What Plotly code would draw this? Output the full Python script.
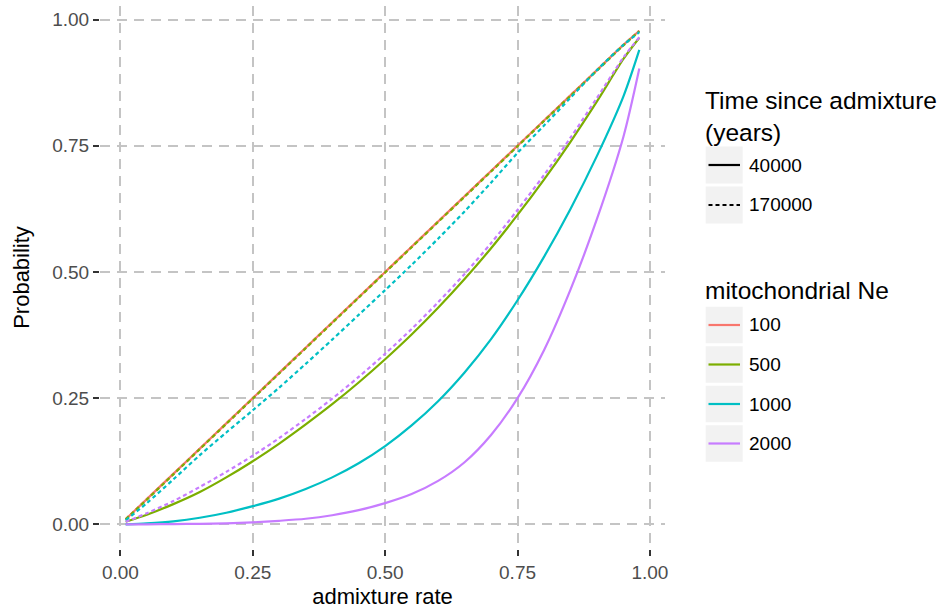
import plotly.graph_objects as go

# ---------------- data ----------------
admixture_rate = [0.01, 0.05, 0.10, 0.15, 0.20, 0.25, 0.30, 0.35, 0.40, 0.45, 0.50,
                  0.55, 0.60, 0.65, 0.70, 0.75, 0.80, 0.85, 0.90, 0.95, 0.98]

p_100_40k = [0.010, 0.050, 0.100, 0.150, 0.200, 0.250, 0.300, 0.350, 0.400, 0.450, 0.500,
             0.550, 0.600, 0.650, 0.700, 0.750, 0.800, 0.850, 0.900, 0.950, 0.978]
p_100_170k = [0.010, 0.050, 0.100, 0.150, 0.200, 0.250, 0.300, 0.350, 0.400, 0.450, 0.500,
              0.550, 0.600, 0.650, 0.700, 0.750, 0.800, 0.850, 0.900, 0.950, 0.978]
p_500_40k = [0.005, 0.019, 0.040, 0.064, 0.093, 0.125, 0.160, 0.198, 0.238, 0.281, 0.327,
             0.376, 0.429, 0.486, 0.547, 0.613, 0.683, 0.758, 0.838, 0.922, 0.964]
p_500_170k = [0.010, 0.049, 0.099, 0.149, 0.199, 0.249, 0.299, 0.349, 0.399, 0.449, 0.499,
              0.549, 0.599, 0.649, 0.699, 0.749, 0.799, 0.849, 0.899, 0.949, 0.977]
p_1000_40k = [0.000, 0.002, 0.006, 0.013, 0.023, 0.036, 0.051, 0.070, 0.093, 0.121, 0.155,
              0.196, 0.244, 0.301, 0.367, 0.444, 0.530, 0.625, 0.730, 0.848, 0.940]
p_1000_170k = [0.008, 0.042, 0.089, 0.137, 0.182, 0.226, 0.271, 0.318, 0.366, 0.415, 0.464,
               0.514, 0.566, 0.620, 0.677, 0.736, 0.790, 0.845, 0.900, 0.950, 0.975]
p_2000_40k = [0.000, 0.000, 0.0005, 0.001, 0.002, 0.004, 0.007, 0.011, 0.018, 0.028, 0.042,
              0.060, 0.086, 0.123, 0.177, 0.250, 0.345, 0.465, 0.605, 0.768, 0.903]
p_2000_170k = [0.005, 0.022, 0.046, 0.074, 0.104, 0.136, 0.171, 0.209, 0.249, 0.292, 0.338,
               0.387, 0.440, 0.496, 0.557, 0.623, 0.692, 0.766, 0.845, 0.925, 0.965]

ne_labels = ["100", "500", "1000", "2000"]
time_labels = ["40000", "170000"]
ne_colors = ["#F8766D", "#7CAE00", "#00BFC4", "#C77CFF"]
time_dashes = ["solid", "4px,3px"]

tick_vals = [0.0, 0.25, 0.5, 0.75, 1.0]
tick_text = ["0.00", "0.25", "0.50", "0.75", "1.00"]

series = [
    (0, 0, p_100_40k), (0, 1, p_100_170k),
    (1, 0, p_500_40k), (1, 1, p_500_170k),
    (2, 0, p_1000_40k), (2, 1, p_1000_170k),
    (3, 0, p_2000_40k), (3, 1, p_2000_170k),
]

FONT = "Liberation Sans, Arial, sans-serif"
W, H = 945, 611
ML, MR, MT, MB = 100, 280, 6, 62
PW, PH = W - ML - MR, H - MT - MB

fig = go.Figure()
for ci, ti, vals in series:
    fig.add_trace(go.Scatter(
        x=admixture_rate, y=vals, mode="lines",
        line=dict(color=ne_colors[ci], width=2.2, dash=time_dashes[ti], shape="spline", smoothing=0.8),
        showlegend=False, hoverinfo="skip"))

grid = dict(showgrid=True, gridcolor="#C4C4C4", gridwidth=1.8, griddash="10px,7px",
            zeroline=False, showline=False, ticks="outside", ticklen=6, tickwidth=2,
            tickcolor="#333333", tickfont=dict(family=FONT, size=19, color="#4D4D4D"),
            tickvals=tick_vals, ticktext=tick_text)

fig.update_xaxes(range=[-0.0385, 1.0285], title=dict(text="admixture rate",
                 font=dict(family=FONT, size=22, color="#000000"), standoff=6), **grid)
fig.update_yaxes(range=[-0.0489, 1.027], title=dict(text="Probability",
                 font=dict(family=FONT, size=22, color="#000000"), standoff=16), **grid)


def px_x(px):
    return (px - ML) / PW


def px_y(py):
    return (H - MB - py) / PH


shapes = []
annotations = []

# legend 1: time since admixture
annotations.append(dict(xref="paper", yref="paper", x=px_x(703), y=px_y(85), xanchor="left", yanchor="top",
                        align="left", showarrow=False, text="Time since admixture<br>(years)",
                        font=dict(family=FONT, size=24.5, color="#000000")))
box_x0, box_x1 = 705.7, 742.7
for i, lab in enumerate(time_labels):
    cy = 165 + 40 * i
    shapes.append(dict(type="rect", xref="paper", yref="paper", x0=px_x(box_x0), x1=px_x(box_x1),
                       y0=px_y(cy - 18.5), y1=px_y(cy + 18.5), fillcolor="#F2F2F2", line=dict(width=0), layer="below"))
    shapes.append(dict(type="line", xref="paper", yref="paper", x0=px_x(708.5), x1=px_x(740), y0=px_y(cy), y1=px_y(cy),
                       line=dict(color="#000000", width=2.2, dash=time_dashes[i])))
    annotations.append(dict(xref="paper", yref="paper", x=px_x(747), y=px_y(cy), xanchor="left", yanchor="middle",
                            showarrow=False, text=lab, font=dict(family=FONT, size=19, color="#000000")))

# legend 2: mitochondrial Ne
annotations.append(dict(xref="paper", yref="paper", x=px_x(703), y=px_y(275), xanchor="left", yanchor="top",
                        align="left", showarrow=False, text="mitochondrial Ne",
                        font=dict(family=FONT, size=24.5, color="#000000")))
for i, lab in enumerate(ne_labels):
    cy = 325 + 39.5 * i
    shapes.append(dict(type="rect", xref="paper", yref="paper", x0=px_x(box_x0), x1=px_x(box_x1),
                       y0=px_y(cy - 18.3), y1=px_y(cy + 18.3), fillcolor="#F2F2F2", line=dict(width=0), layer="below"))
    shapes.append(dict(type="line", xref="paper", yref="paper", x0=px_x(708.5), x1=px_x(740), y0=px_y(cy), y1=px_y(cy),
                       line=dict(color=ne_colors[i], width=2.2)))
    annotations.append(dict(xref="paper", yref="paper", x=px_x(747), y=px_y(cy), xanchor="left", yanchor="middle",
                            showarrow=False, text=lab, font=dict(family=FONT, size=19, color="#000000")))

fig.update_layout(
    width=W, height=H,
    margin=dict(l=ML, r=MR, t=MT, b=MB, pad=0),
    paper_bgcolor="#FFFFFF", plot_bgcolor="#FFFFFF",
    showlegend=False,
    shapes=shapes, annotations=annotations,
    font=dict(family=FONT),
)

fig.write_html("out.html", config={"displayModeBar": False},
               post_script="document.body.style.margin='0';document.body.style.padding='0';")
